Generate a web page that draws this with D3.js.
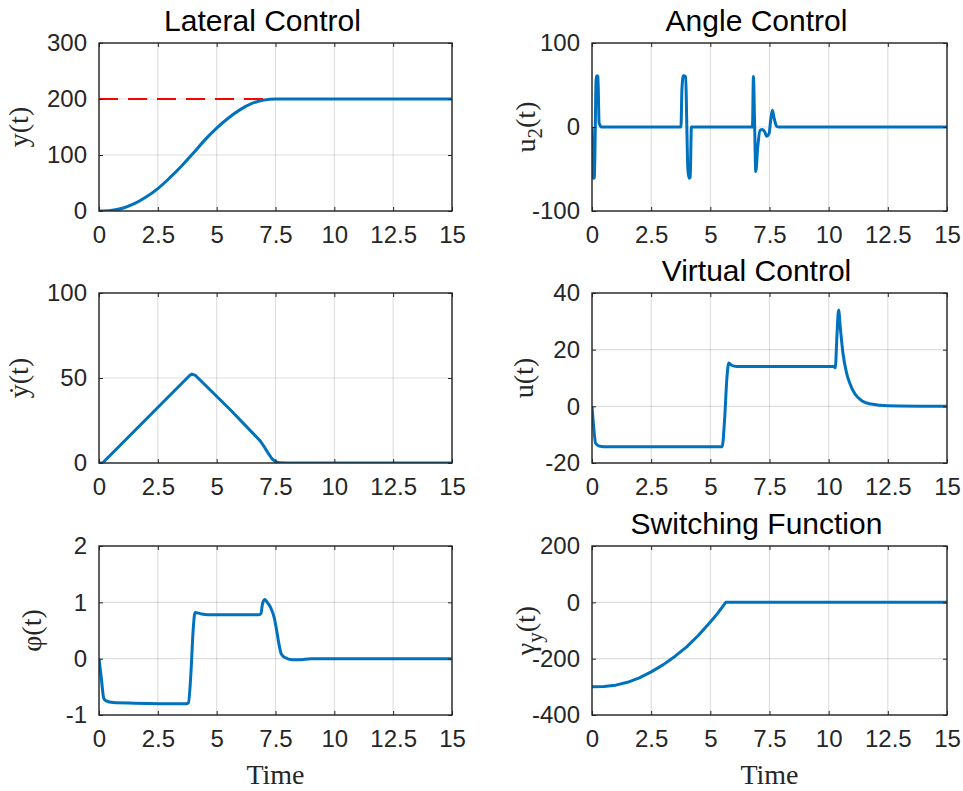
<!DOCTYPE html>
<html lang="en">
<head>
	<meta charset="UTF-8">
	<title>Control responses</title>
	<style type="text/css">
		body { margin: 0; background: #fff; }
		.tick text { font-family: "Liberation Sans", Arial, Helvetica, sans-serif; font-size: 24px; fill: #262626; }
		.tick line { stroke: #262626; stroke-width: 1; }
	</style>
</head>
<body>
	<script type="text/javascript" src="https://cdn.jsdelivr.net/npm/d3@7/dist/d3.min.js"></script>
	<script type="text/javascript">
		// time axis shared by all panels
		var xTicks = [0, 2.5, 5, 7.5, 10, 12.5, 15];
		var xTickLabels = ['0', '2.5', '5', '7.5', '10', '12.5', '15'];

		// Lateral Control : y(t) and its reference
		var tY    = [0, 0.5, 1, 1.5, 2, 2.5, 3, 3.5, 4, 4.5, 5, 5.5, 6, 6.5, 7, 7.5, 8, 15];
		var yVals = [0, 1, 5, 13, 25, 40, 59, 80, 103, 127, 148, 166, 181, 192, 198, 200, 200, 200];
		var yRef  = 200;
		var yTicks = [0, 100, 200, 300];

		// Angle Control : u2(t)
		var tU2    = [0, 0.03, 0.06, 0.1, 0.13, 0.17, 0.2, 0.25, 0.3, 0.4, 3.76, 3.8, 3.86, 3.96, 4.0, 4.05, 4.1, 4.15, 4.2, 4.3,
		              6.78, 6.82, 6.87, 6.92, 7.0, 7.1, 7.2, 7.3, 7.38, 7.48, 7.55, 7.62, 7.7, 7.8, 7.9, 15];
		var u2Vals = [0, -50, -61, -60, -20, 55, 61, 60, 5, 0, 0, 45, 61, 60, 10, -50, -61, -60, 0, 0,
		              0, 60, 5, -53, -25, -4, -3, -6, -11, -8, 8, 20, 10, 1, 0, 0];
		var u2Ticks = [-100, 0, 100];

		// velocity : ydot(t)
		var tYdot    = [0, 0.15, 3.85, 3.95, 4.1, 5.6, 6.85, 7.0, 7.2, 7.35, 7.5, 7.7, 8, 15];
		var ydotVals = [0, 0, 51.5, 52.3, 51.5, 31, 13, 10, 5.5, 2.5, 0.8, 0.1, 0, 0];
		var ydotTicks = [0, 50, 100];

		// Virtual Control : u(t)
		var tU    = [0, 0.08, 0.15, 0.25, 0.4, 0.6, 5.5, 5.6, 5.7, 5.78, 5.9, 6.1, 10.2, 10.28, 10.35, 10.42, 10.5, 10.6, 10.75, 10.9, 11.1, 11.4, 11.8, 12.5, 15];
		var uVals = [0, -8, -13, -13.8, -14.2, -14.3, -14.3, -5, 10, 15.3, 14.5, 14.1, 14.1, 13.6, 25, 34, 27, 19, 12, 8, 4.5, 2, 0.8, 0.2, 0];
		var uTicks = [-20, 0, 20, 40];

		// angle : phi(t)
		var tPhi    = [0, 0.1, 0.2, 0.3, 0.6, 1.5, 3.7, 3.8, 3.9, 4.0, 4.08, 4.3, 4.6, 6.8, 6.88, 6.95, 7.05, 7.15, 7.3, 7.45, 7.55, 7.65, 7.75, 7.9, 8.2, 8.5, 9.0, 15];
		var phiVals = [0, -0.35, -0.7, -0.75, -0.78, -0.79, -0.8, -0.78, -0.3, 0.5, 0.82, 0.8, 0.78, 0.78, 0.8, 0.98, 1.05, 1.0, 0.9, 0.72, 0.5, 0.25, 0.08, 0.02, -0.02, -0.02, 0, 0];
		var phiTicks = [-1, 0, 1, 2];

		// Switching Function : gamma_y(t)
		var tGam    = [0, 0.5, 1, 1.5, 2, 2.5, 3, 3.5, 4, 4.5, 5, 5.3, 5.65, 15];
		var gamVals = [-300, -299, -294, -284, -268, -247, -222, -192, -158, -117, -70, -40, 0, 0];
		var gamTicks = [-400, -200, 0, 200];

		var W = 963, H = 791;
		var colX = [[99, 452], [592, 947]];
		var rowY = [[43, 211], [293, 463], [546, 715]];
		var blue = '#0072bd';

		var panels = [
			{col: 0, row: 0, t: tY, v: yVals, dom: [0, 300], ticks: yTicks, title: 'Lateral Control', lab: [['y(t)']], lx: 20, ref: yRef, curve: d3.curveMonotoneX},
			{col: 1, row: 0, t: tU2, v: u2Vals, dom: [-100, 100], ticks: u2Ticks, title: 'Angle Control', lab: [['u'], ['2', 'sub'], ['(t)']], lx: 527, curve: d3.curveMonotoneX},
			{col: 0, row: 1, t: tYdot, v: ydotVals, dom: [0, 100], ticks: ydotTicks, title: null, lab: [['y\u0307(t)']], lx: 20, curve: d3.curveLinear},
			{col: 1, row: 1, t: tU, v: uVals, dom: [-20, 40], ticks: uTicks, title: 'Virtual Control', lab: [['u(t)']], lx: 525, curve: d3.curveMonotoneX},
			{col: 0, row: 2, t: tPhi, v: phiVals, dom: [-1, 2], ticks: phiTicks, title: null, lab: [['\u03c6(t)']], lx: 33, time: true, curve: d3.curveMonotoneX},
			{col: 1, row: 2, t: tGam, v: gamVals, dom: [-400, 200], ticks: gamTicks, title: 'Switching Function', lab: [['\u03b3'], ['y', 'sub'], ['(t)']], lx: 527, time: true, curve: d3.curveLinear}
		];

		var svg = d3.select('body')
					.append('svg')
					.attr('width', W)
					.attr('height', H);

		svg.append('rect')
			.attr('width', W)
			.attr('height', H)
			.attr('fill', '#fff');

		panels.forEach(function (p, i) {
			var x0 = colX[p.col][0], x1 = colX[p.col][1];
			var y0 = rowY[p.row][0], y1 = rowY[p.row][1];

			var x = d3.scaleLinear().domain([0, 15]).range([x0, x1]);
			var y = d3.scaleLinear().domain(p.dom).range([y1, y0]);

			var g = svg.append('g');

			// grid
			g.selectAll('.gx')
				.data(xTicks)
				.enter()
				.append('line')
				.attr('x1', function (d) { return x(d); })
				.attr('x2', function (d) { return x(d); })
				.attr('y1', y0)
				.attr('y2', y1)
				.attr('stroke', '#262626')
				.attr('stroke-opacity', 0.15)
				.attr('stroke-width', 1.2);
			g.selectAll('.gy')
				.data(p.ticks)
				.enter()
				.append('line')
				.attr('x1', x0)
				.attr('x2', x1)
				.attr('y1', function (d) { return y(d); })
				.attr('y2', function (d) { return y(d); })
				.attr('stroke', '#262626')
				.attr('stroke-opacity', 0.15)
				.attr('stroke-width', 1.2);

			// clip for the data
			svg.append('clipPath')
				.attr('id', 'clip' + i)
				.append('rect')
				.attr('x', x0)
				.attr('y', y0)
				.attr('width', x1 - x0)
				.attr('height', y1 - y0);

			var line = d3.line()
				.x(function (d) { return x(d[0]); })
				.y(function (d) { return y(d[1]); })
				.curve(p.curve);

			var data = d3.zip(p.t, p.v);

			if (p.ref != null) {
				g.append('path')
					.datum([[0, p.ref], [15, p.ref]])
					.attr('d', line)
					.attr('fill', 'none')
					.attr('stroke', '#ff0000')
					.attr('stroke-width', 2.2)
					.attr('stroke-dasharray', '19,10')
					.attr('clip-path', 'url(#clip' + i + ')');
			}

			g.append('path')
				.datum(data)
				.attr('d', line)
				.attr('fill', 'none')
				.attr('stroke', blue)
				.attr('stroke-width', 3)
				.attr('stroke-linejoin', 'round')
				.attr('clip-path', 'url(#clip' + i + ')');

			// axes, ticks pointing inward
			var fmtX = function (d, k) { return xTickLabels[k]; };
			g.append('g')
				.attr('transform', 'translate(0,' + y1 + ')')
				.call(d3.axisBottom(x).tickValues(xTicks).tickFormat(fmtX).tickSize(-4).tickPadding(15))
				.select('.domain').remove();
			g.append('g')
				.attr('transform', 'translate(0,' + y0 + ')')
				.call(d3.axisTop(x).tickValues(xTicks).tickFormat('').tickSize(-4))
				.select('.domain').remove();
			g.append('g')
				.attr('transform', 'translate(' + x0 + ',0)')
				.call(d3.axisLeft(y).tickValues(p.ticks).tickFormat(function (d) { return String(d); }).tickSize(-4).tickPadding(12))
				.select('.domain').remove();
			g.append('g')
				.attr('transform', 'translate(' + x1 + ',0)')
				.call(d3.axisRight(y).tickValues(p.ticks).tickFormat('').tickSize(-4))
				.select('.domain').remove();

			g.append('rect')
				.attr('x', x0)
				.attr('y', y0)
				.attr('width', x1 - x0)
				.attr('height', y1 - y0)
				.attr('fill', 'none')
				.attr('stroke', '#262626')
				.attr('stroke-width', 1.4);

			if (p.title) {
				g.append('text')
					.attr('x', (x0 + x1) / 2 - 13)
					.attr('y', y0 - 12)
					.attr('text-anchor', 'middle')
					.attr('font-family', '"Liberation Sans", Arial, Helvetica, sans-serif')
					.attr('font-size', '30px')
					.attr('fill', '#000')
					.text(p.title);
			}

			// y label, serif, rotated
			var lab = g.append('text')
				.attr('transform', 'translate(' + p.lx + ',' + ((y0 + y1) / 2) + ') rotate(-90)')
				.attr('text-anchor', 'middle')
				.attr('dy', '0.3em')
				.attr('font-family', '"Liberation Serif", "Times New Roman", serif')
				.attr('font-size', '28px')
				.attr('fill', '#262626');
			p.lab.forEach(function (part) {
				var ts = lab.append('tspan').text(part[0]);
				if (part[1] === 'sub') {
					ts.attr('font-size', '21px').attr('dy', 7);
				} else if (lab.selectAll('tspan').size() > 1) {
					ts.attr('dy', -7);
				}
			});

			if (p.time) {
				g.append('text')
					.attr('x', (x0 + x1) / 2)
					.attr('y', 784)
					.attr('text-anchor', 'middle')
					.attr('font-family', '"Liberation Serif", "Times New Roman", serif')
					.attr('font-size', '28px')
					.attr('fill', '#262626')
					.text('Time');
			}
		});
	</script>
</body>
</html>
